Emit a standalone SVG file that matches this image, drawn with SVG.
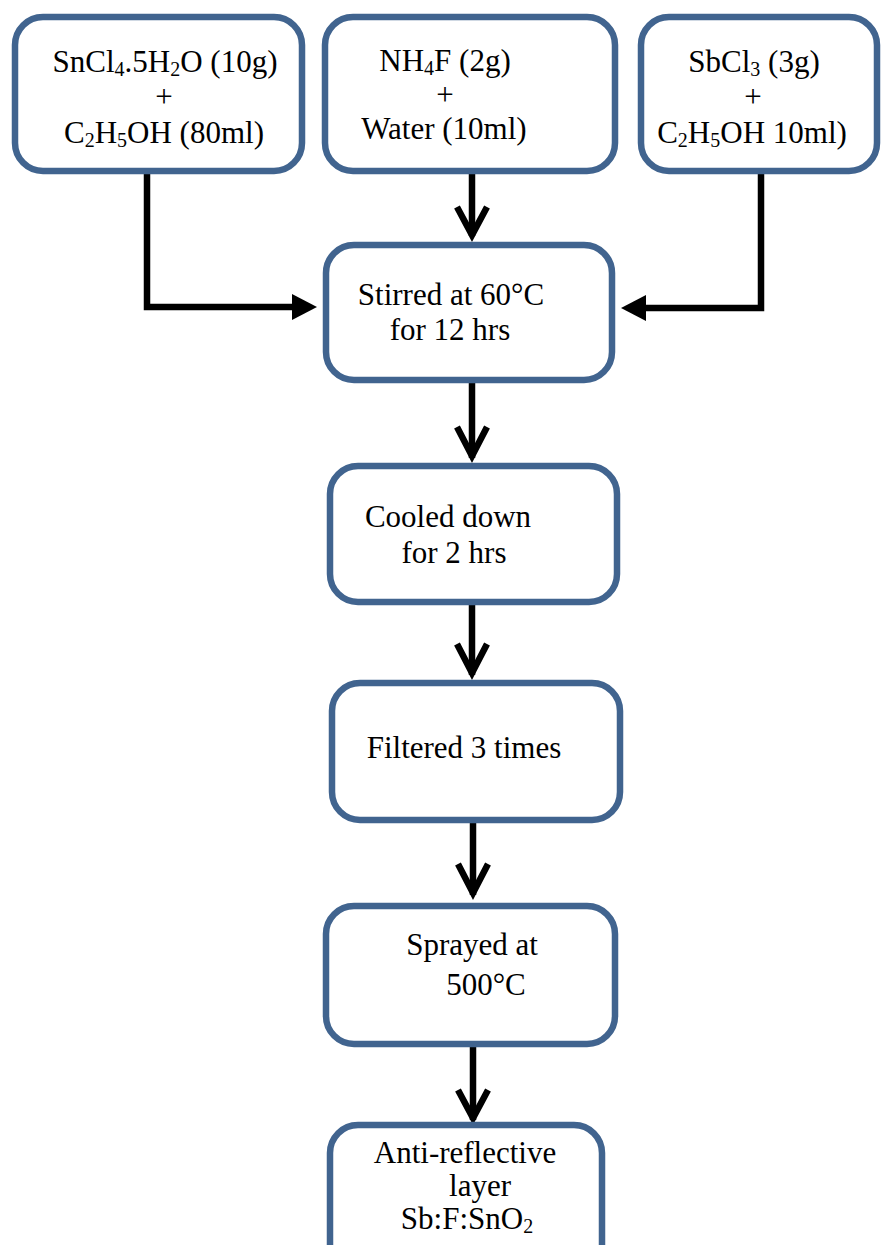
<svg xmlns="http://www.w3.org/2000/svg" width="882" height="1245" viewBox="0 0 882 1245">
<defs>
<style>
.box{fill:#fff;stroke:#41648f;stroke-width:6.5}
.t{font-family:'Liberation Serif',serif;font-size:31px;fill:#000;text-anchor:middle}
.s{font-size:20px}
.c{fill:none;stroke:#000;stroke-width:6.5}
.v{fill:none;stroke:#000;stroke-width:6.5;stroke-linejoin:miter}
</style>
<marker id="tri" markerUnits="userSpaceOnUse" markerWidth="30" markerHeight="30" refX="1" refY="13" orient="auto">
<path d="M0,0 L25,13 L0,26 Z" fill="#000"/>
</marker>
</defs>
<rect width="882" height="1245" fill="#fff"/>
<g id="connectors">
<path class="c" d="M147,172 V307 H293" marker-end="url(#tri)"/>
<path class="c" d="M761,172 V308 H645" marker-end="url(#tri)"/>
<path class="c" d="M472,174 V236"/>
<path class="v" d="M457,207 L472,235 L487,207"/>
<path class="c" d="M472,383 V458"/>
<path class="v" d="M457,427 L472,456 L487,427"/>
<path class="c" d="M472,605 V675"/>
<path class="v" d="M457,644 L472,673 L487,644"/>
<path class="c" d="M473,823 V895"/>
<path class="v" d="M458,864 L473,893 L488,864"/>
<path class="c" d="M473,1047 V1120"/>
<path class="v" d="M458,1090 L473,1118 L488,1090"/>
</g>
<g font-family="Liberation Serif, serif">
<g id="n1">
<rect class="box" x="15" y="17" width="287" height="154" rx="28"/>
<text class="t" x="165" y="72">SnCl<tspan class="s" dy="4">4</tspan><tspan dy="-4">.5H</tspan><tspan class="s" dy="4">2</tspan><tspan dy="-4">O (10g)</tspan></text>
<text class="t" x="164" y="107">+</text>
<text class="t" x="164" y="143">C<tspan class="s" dy="4">2</tspan><tspan dy="-4">H</tspan><tspan class="s" dy="4">5</tspan><tspan dy="-4">OH (80ml)</tspan></text>
</g>
<g id="n2">
<rect class="box" x="325" y="17" width="290" height="154" rx="28"/>
<text class="t" x="445" y="71">NH<tspan class="s" dy="4">4</tspan><tspan dy="-4">F (2g)</tspan></text>
<text class="t" x="445" y="105">+</text>
<text class="t" x="444" y="139">Water (10ml)</text>
</g>
<g id="n3">
<rect class="box" x="641" y="17" width="236" height="154" rx="28"/>
<text class="t" x="754" y="72">SbCl<tspan class="s" dy="4">3</tspan><tspan dy="-4"> (3g)</tspan></text>
<text class="t" x="753" y="107">+</text>
<text class="t" x="752" y="143">C<tspan class="s" dy="4">2</tspan><tspan dy="-4">H</tspan><tspan class="s" dy="4">5</tspan><tspan dy="-4">OH 10ml)</tspan></text>
</g>
<g id="n4">
<rect class="box" x="326" y="245" width="286" height="135" rx="28"/>
<text class="t" x="451" y="305">Stirred at 60°C</text>
<text class="t" x="450" y="340">for 12 hrs</text>
</g>
<g id="n5">
<rect class="box" x="330" y="466" width="287" height="136" rx="28"/>
<text class="t" x="448" y="527">Cooled down</text>
<text class="t" x="454" y="563">for 2 hrs</text>
</g>
<g id="n6">
<rect class="box" x="332" y="683" width="288" height="137" rx="28"/>
<text class="t" x="464" y="758">Filtered 3 times</text>
</g>
<g id="n7">
<rect class="box" x="326" y="906" width="289" height="138" rx="28"/>
<text class="t" x="472" y="955">Sprayed at</text>
<text class="t" x="486" y="995">500°C</text>
</g>
<g id="n8">
<rect class="box" x="330" y="1125" width="272" height="150" rx="28"/>
<text class="t" x="465" y="1163">Anti-reflective</text>
<text class="t" x="480" y="1196">layer</text>
<text class="t" x="467" y="1229">Sb:F:SnO<tspan class="s" dy="4">2</tspan></text>
</g>
</g>
</svg>
